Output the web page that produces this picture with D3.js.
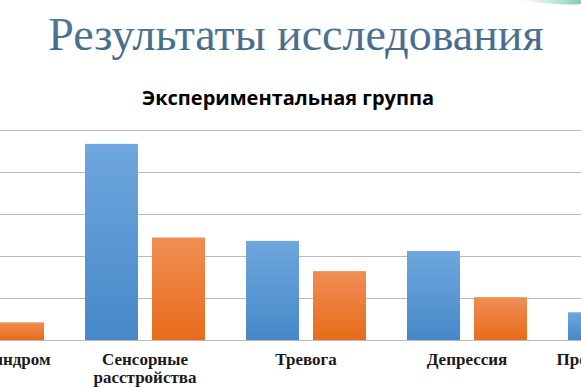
<!DOCTYPE html>
<html>
<head>
<meta charset="utf-8">
<script src="https://cdn.jsdelivr.net/npm/d3@7"></script>
<style>
  body { margin: 0; background: #fff; }
  svg { display: block; }
</style>
</head>
<body>
<svg id="chart" width="581" height="387"></svg>
<script>
// categories (first and last are cut off by the slide edge)
const categories = ['Болевой синдром', 'Сенсорные расстройства', 'Тревога', 'Депрессия', 'Проблемы со сном'];
const seriesNames = ['Ряд 1', 'Ряд 2'];
const series1 = [9, 46.7, 23.6, 21.2, 6.6];
const series2 = [4.2, 24.4, 16.4, 10.2, 3];
const yTicks = [0, 10, 20, 30, 40, 50];

const svg = d3.select('#chart');
const W = 581, H = 387;

const defs = svg.append('defs');
function grad(id, top, bottom) {
  const g = defs.append('linearGradient').attr('id', id)
    .attr('x1', 0).attr('y1', 0).attr('x2', 0).attr('y2', 1);
  g.append('stop').attr('offset', '0%').attr('stop-color', top);
  g.append('stop').attr('offset', '100%').attr('stop-color', bottom);
}
grad('gBlue', '#6fa7de', '#4688c8');
grad('gOrange', '#f08d55', '#e86c1a');
grad('gTitle', '#5a7f9c', '#3e6485');
const swoosh = defs.append('linearGradient').attr('id', 'gSwoosh')
  .attr('x1', 0).attr('y1', 0).attr('x2', 1).attr('y2', 0);
swoosh.append('stop').attr('offset', '0%').attr('stop-color', '#d8efe8').attr('stop-opacity', 0.3);
swoosh.append('stop').attr('offset', '100%').attr('stop-color', '#7fcab5');

// decorative swoosh, top right
svg.append('path')
  .attr('d', 'M520,0 Q560,6 581,4 L581,0 Z')
  .attr('fill', 'url(#gSwoosh)');

// slide title
svg.append('text')
  .attr('x', 296).attr('y', 50)
  .attr('text-anchor', 'middle')
  .style('font-family', '"Liberation Serif", "Times New Roman", serif')
  .style('font-size', '46px')
  .attr('fill', 'url(#gTitle)')
  .text('Результаты исследования');

// chart title
svg.append('text')
  .attr('x', 288).attr('y', 105)
  .attr('text-anchor', 'middle')
  .style('font-family', '"Open Sans", "Liberation Sans", sans-serif')
  .style('font-weight', 'bold')
  .style('font-size', '20px')
  .attr('fill', '#000')
  .text('Экспериментальная группа');

const x0 = d3.scaleBand().domain(categories).range([-96.5, 708.5]).padding(0);
const x1 = d3.scaleBand().domain(seriesNames).range([20.5, 140.5]).paddingInner(0.209);
const y = d3.scaleLinear().domain([0, 50]).range([340, 130]);

// gridlines
svg.append('g')
  .selectAll('line')
  .data(yTicks)
  .join('line')
  .attr('x1', 0).attr('x2', W)
  .attr('y1', d => Math.round(y(d)) + 0.5)
  .attr('y2', d => Math.round(y(d)) + 0.5)
  .attr('stroke', '#bababa')
  .attr('stroke-width', 1.2);

// bars
const rows = categories.map((c, i) => ({ cat: c, vals: [series1[i], series2[i]] }));
const groups = svg.append('g').selectAll('g')
  .data(rows)
  .join('g')
  .attr('transform', d => `translate(${x0(d.cat)},0)`);

groups.selectAll('rect')
  .data(d => d.vals.map((v, k) => ({ key: seriesNames[k], v })))
  .join('rect')
  .attr('x', d => x1(d.key))
  .attr('width', x1.bandwidth())
  .attr('y', d => y(d.v))
  .attr('height', d => y(0) - y(d.v))
  .attr('fill', d => d.key === seriesNames[0] ? 'url(#gBlue)' : 'url(#gOrange)');

// category labels (wrapped)
const labels = svg.append('g')
  .selectAll('text')
  .data(categories)
  .join('text')
  .attr('x', d => x0(d) + x0.bandwidth() / 2)
  .attr('y', 365)
  .attr('text-anchor', 'middle')
  .style('font-family', '"Liberation Serif", "Times New Roman", serif')
  .style('font-weight', 'bold')
  .style('font-size', '17px')
  .attr('fill', '#1a1a1a');

labels.each(function (d) {
  const t = d3.select(this);
  const words = d.split(' ');
  const lines = d === 'Сенсорные расстройства' ? words : [d];
  lines.forEach((ln, i) => {
    t.append('tspan')
      .attr('x', t.attr('x'))
      .attr('dy', i === 0 ? 0 : 18)
      .text(ln);
  });
});
</script>
</body>
</html>
